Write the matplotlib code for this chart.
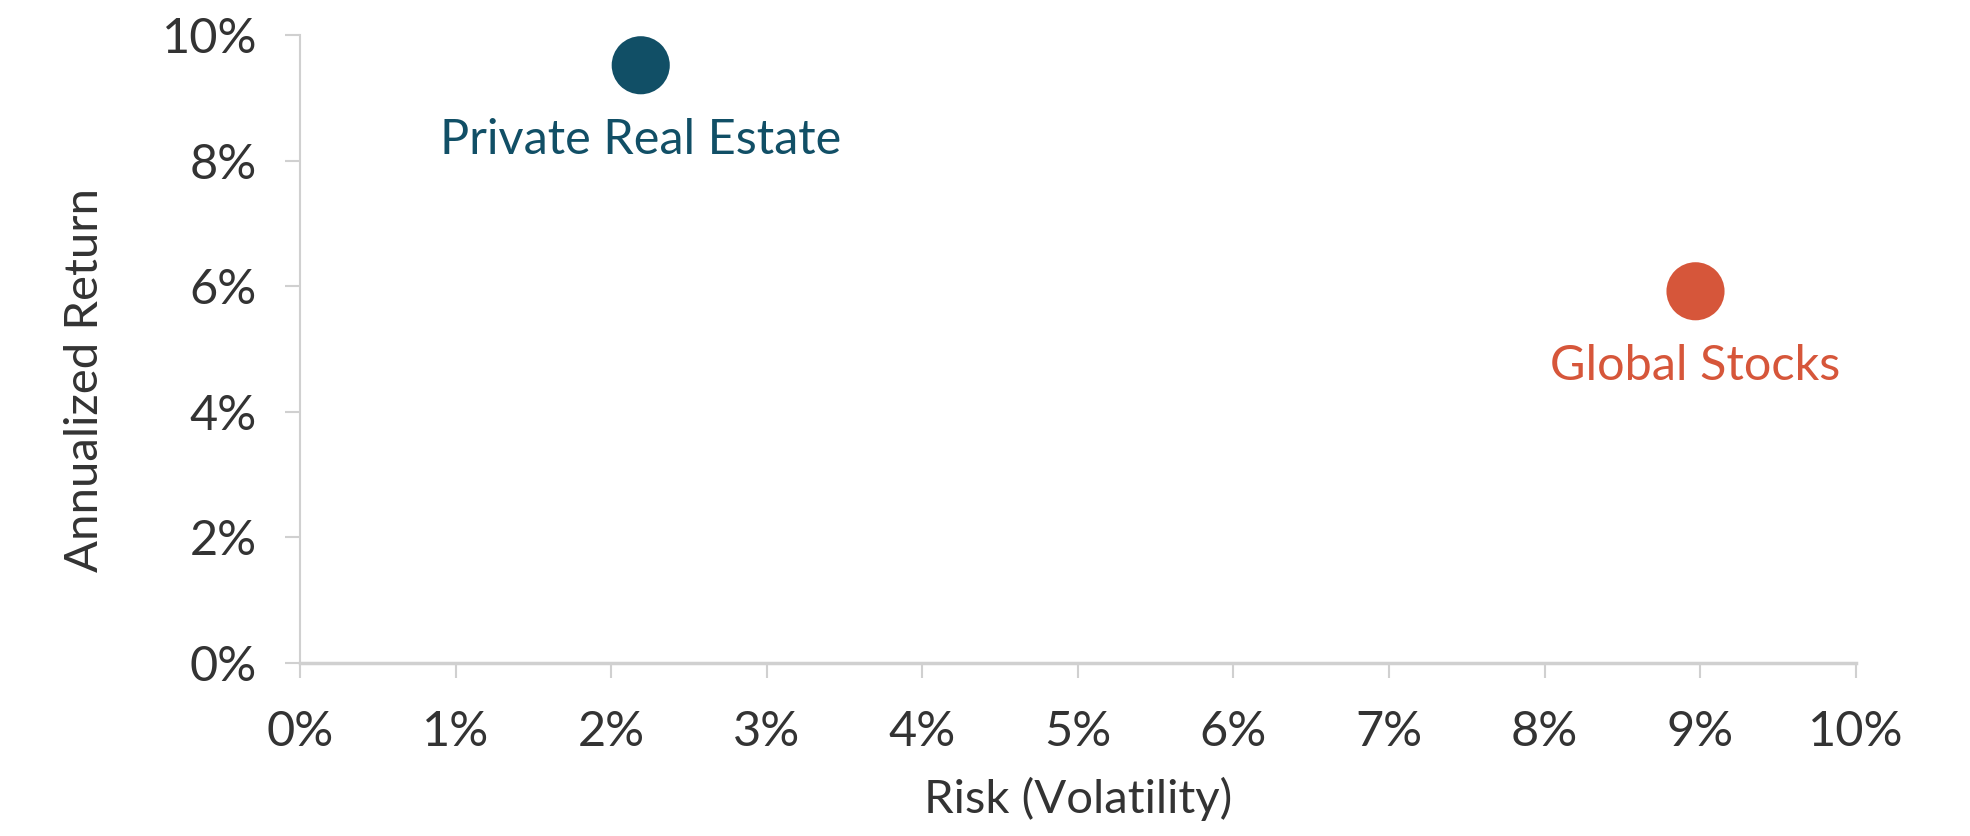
import matplotlib
matplotlib.use("Agg")
import matplotlib.pyplot as plt
from matplotlib.ticker import FuncFormatter

# Data
assets = ["Private Real Estate", "Global Stocks"]
risk = [2.19, 8.97]          # % volatility
returns = [9.52, 5.92]       # % annualized return
colors = ["#114F66", "#D6563A"]

x_ticks = list(range(0, 11, 1))
y_ticks = list(range(0, 11, 2))

plt.rcParams['font.family'] = ['Lato', 'DejaVu Sans']

fig = plt.figure(figsize=(19.7, 8.36), dpi=100)
ax = fig.add_axes([0.1523, 0.207, 0.7897, 0.751])

ax.scatter(risk, returns, s=1750, c=colors, zorder=3, linewidths=0)

for xv, yv, name, col in zip(risk, returns, assets, colors):
    ax.annotate(name, (xv, yv), xytext=(0, -38), textcoords='offset points',
                ha='center', va='top', fontsize=35, color=col)

ax.set_xlim(0, 10)
ax.set_ylim(0, 10)
ax.set_xticks(x_ticks)
ax.set_yticks(y_ticks)
fmt = FuncFormatter(lambda v, p: f"{v:.0f}%")
ax.xaxis.set_major_formatter(fmt)
ax.yaxis.set_major_formatter(fmt)

for side in ['top', 'right']:
    ax.spines[side].set_visible(False)
for side in ['left', 'bottom']:
    ax.spines[side].set_color('#D0D0D0')
ax.spines['left'].set_linewidth(1.5)
ax.spines['bottom'].set_linewidth(2.5)

ax.tick_params(axis='both', which='major', direction='out', length=11,
               width=1.5, color='#D0D0D0', labelsize=35, labelcolor='#333333')
ax.tick_params(axis='x', pad=23)
ax.tick_params(axis='y', pad=20)

ax.set_xlabel("Risk (Volatility)", fontsize=34, color='#333333', labelpad=16)
ax.set_ylabel("Annualized Return", fontsize=34, color='#333333', labelpad=40)
ax.yaxis.label.set_y(0.45)

fig.savefig("out.png", dpi=100, facecolor='white')
